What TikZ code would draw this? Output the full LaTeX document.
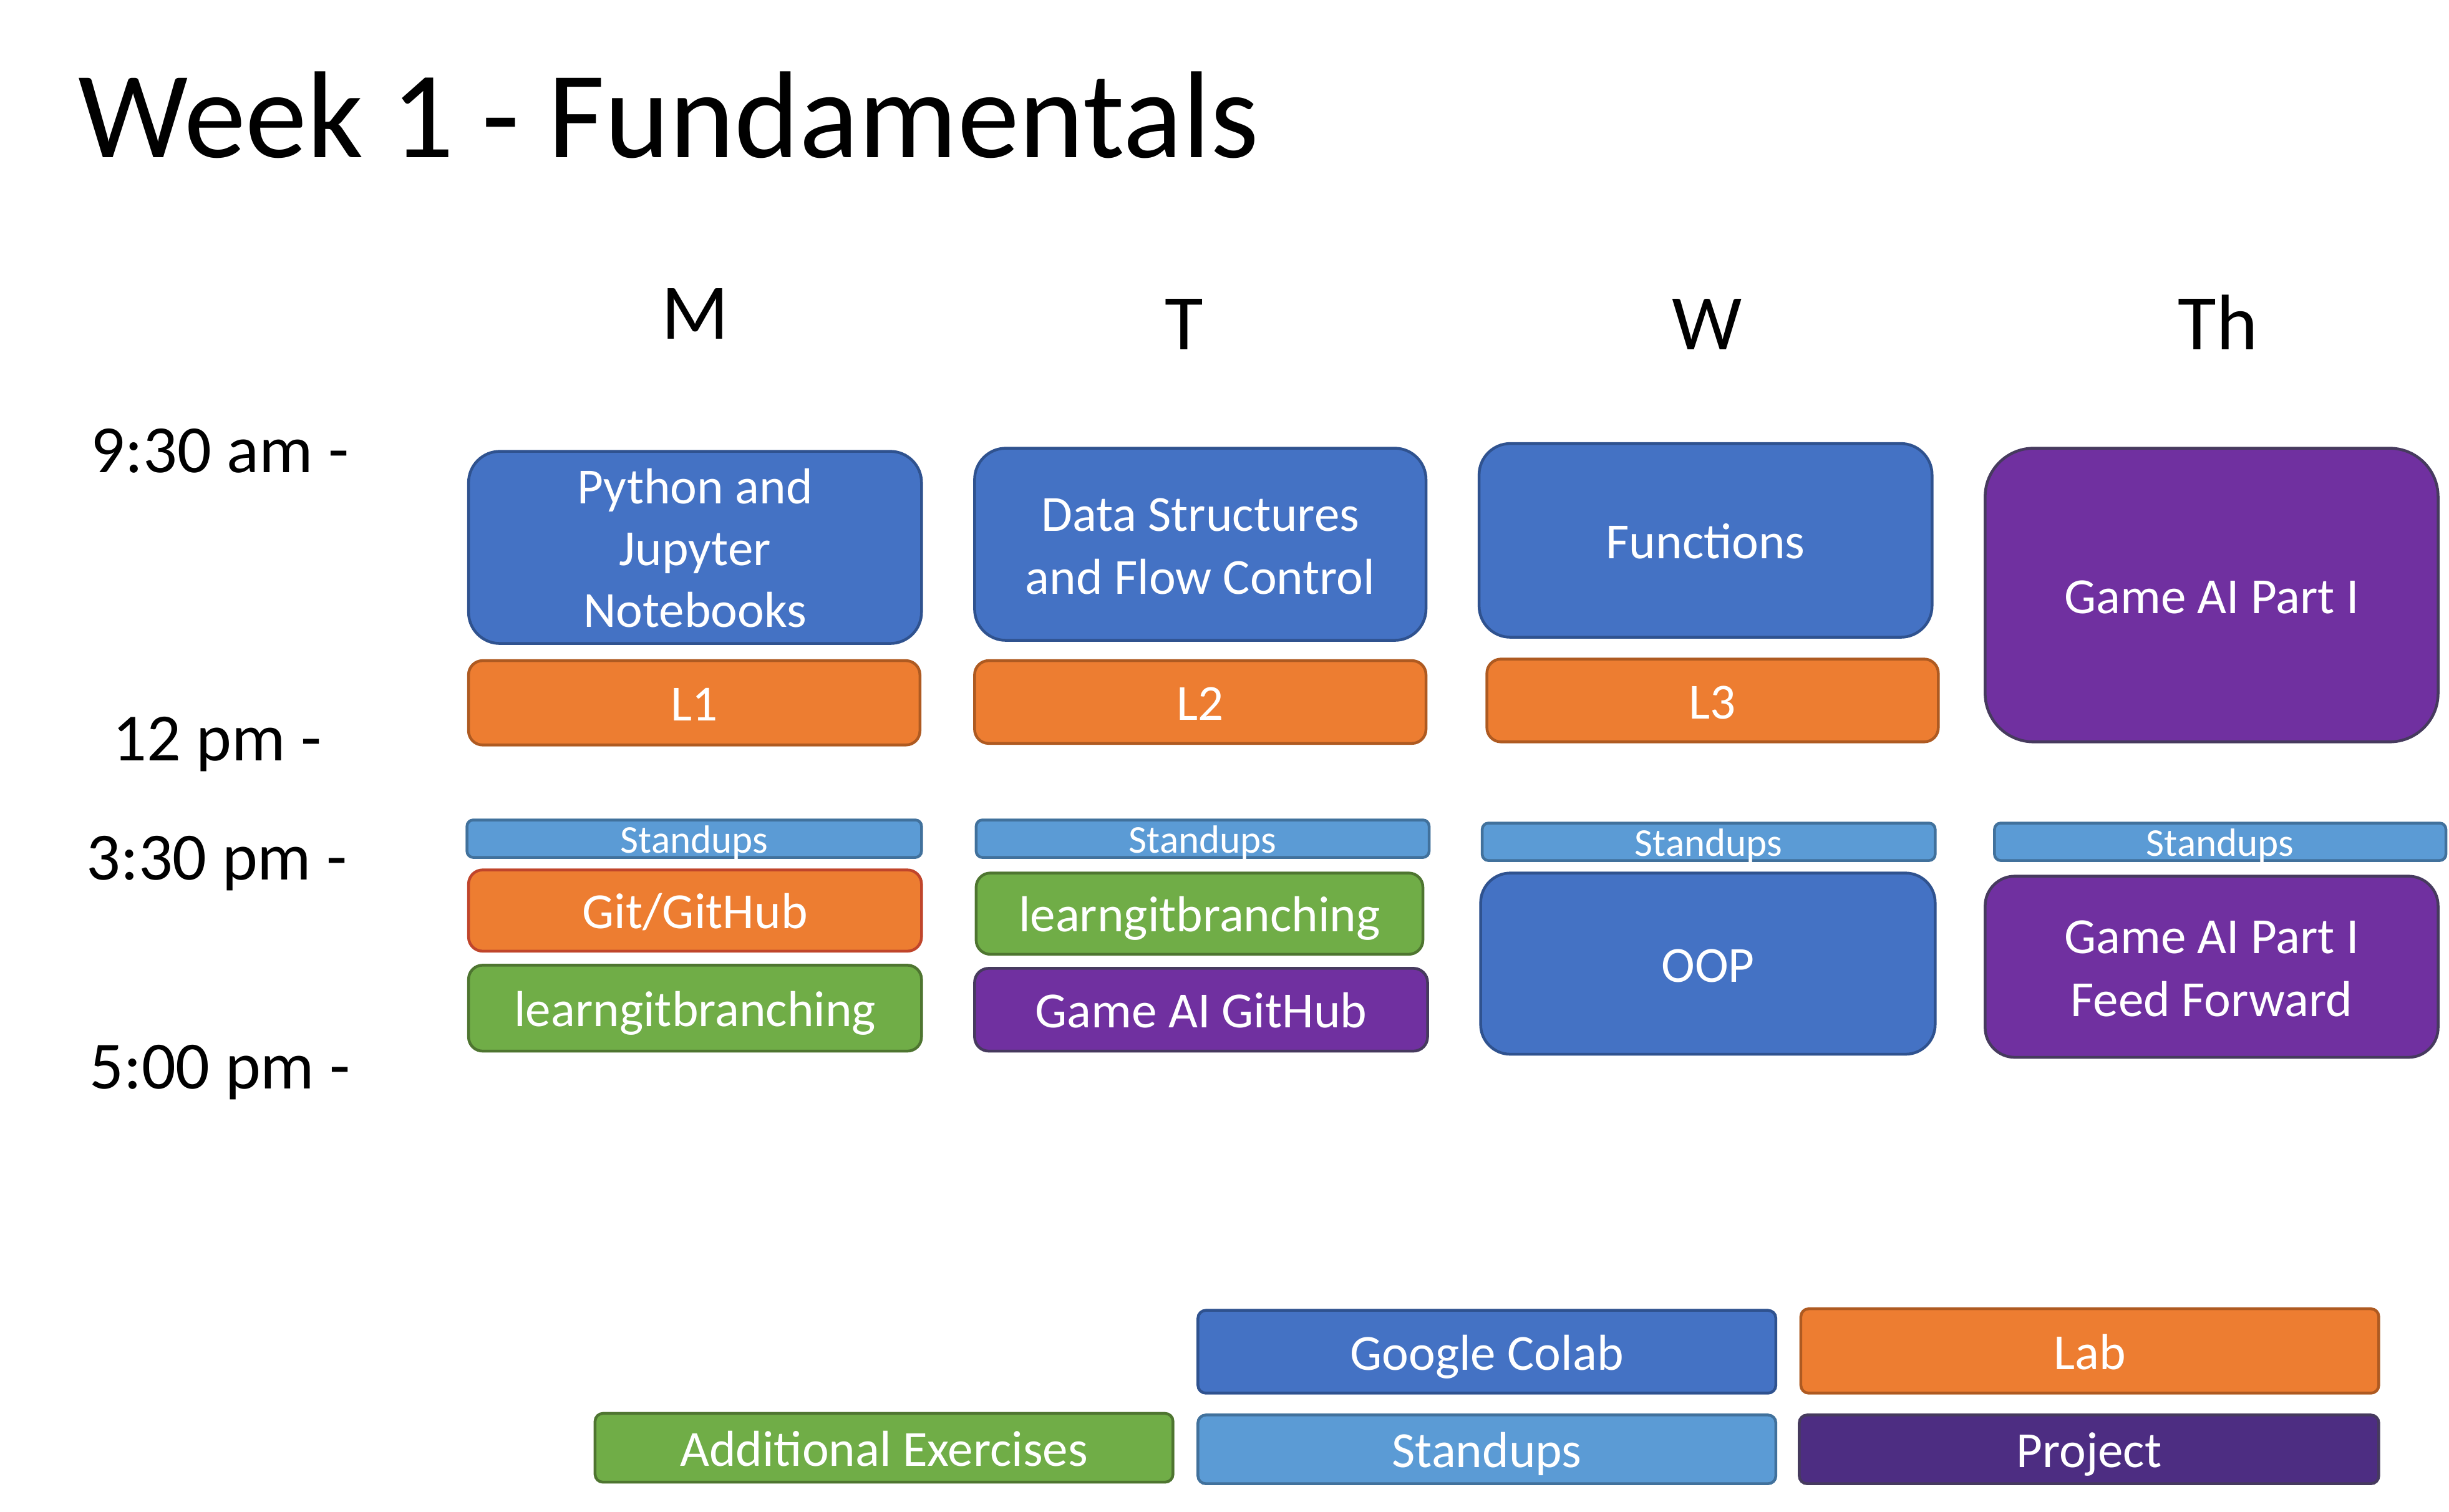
\documentclass[tikz,border=0pt]{standalone}
\usepackage{fontspec}
\setmainfont{Carlito}
\definecolor{cBlue}{HTML}{4472C4}
\definecolor{cBlueD}{HTML}{2F528F}
\definecolor{cOr}{HTML}{ED7D31}
\definecolor{cOrD}{HTML}{AE5A21}
\definecolor{cOrR}{HTML}{C0452B}
\definecolor{cLb}{HTML}{5B9BD5}
\definecolor{cLbD}{HTML}{41719C}
\definecolor{cGr}{HTML}{70AD47}
\definecolor{cGrD}{HTML}{4E7530}
\definecolor{cPu}{HTML}{7030A0}
\definecolor{cPuD}{HTML}{463A5E}
\definecolor{cPj}{HTML}{4D2D82}
\newcommand\ls{\rule[-0.25em]{0pt}{1.22em}}
\tikzset{
  cell/.style={draw, line width=1.8pt, text=white, align=center, inner sep=0pt,
    font=\fontsize{32.4}{39.5}\selectfont},
  small/.style={font=\fontsize{25.2}{30.7}\selectfont, text height=20.9pt, text depth=2.8pt},
  blu/.style={fill=cBlue, draw=cBlueD},
  ora/.style={fill=cOr, draw=cOrD},
  orr/.style={fill=cOr, draw=cOrR},
  lbl/.style={fill=cLb, draw=cLbD},
  grn/.style={fill=cGr, draw=cGrD},
  pur/.style={fill=cPu, draw=cPuD},
  prj/.style={fill=cPj, draw=cPuD},
  sz/.style n args={3}{minimum width=#1pt, minimum height=#2pt, rounded corners=#3pt},
  timelbl/.style={anchor=base west, inner sep=0pt, font=\fontsize{43.2}{52}\selectfont},
  daylbl/.style={anchor=base, inner sep=0pt, font=\fontsize{50.4}{61}\selectfont},
}
\begin{document}
\begin{tikzpicture}[x=1pt,y=-1pt]
\useasboundingbox (0,0) rectangle (1568,968.1);
% title
\node[anchor=base west, inner sep=0pt, font=\fontsize{79.2}{95}\selectfont] (title) at (50,101) {Week 1 - Fundamentals};
% days
\node[daylbl] (dM) at (445,217) {M};
\node[daylbl] (dT) at (758,224) {T};
\node[daylbl] (dW) at (1093,224) {W};
\node[daylbl] (dTh) at (1420,224) {Th};
% times
\node[timelbl] (t1) at (58,302.7) {9:30 am -};
\node[timelbl] (t2) at (72,487) {12 pm -};
\node[timelbl] (t3) at (55,563.5) {3:30 pm -};
\node[timelbl] (t4) at (57,697) {5:00 pm -};
% Monday
\node[cell, blu, sz={290}{123}{20}] (py) at (445,350.5) {\ls Python and\\Jupyter\\Notebooks\ls};
\node[cell, ora, sz={289}{54}{9}] (l1) at (444.5,450) {\ls L1};
\node[cell, lbl, small, sz={291}{24}{4}] (sM) at (444.5,537) {Standups};
\node[cell, orr, sz={290}{52}{9}] (git) at (445,583) {\ls Git/GitHub};
\node[cell, grn, sz={290}{55}{9}] (lgM) at (445,645.5) {\ls learngitbranching};
% Tuesday
\node[cell, blu, sz={289}{123}{20}] (ds) at (768.5,348.5) {\ls Data Structures\\and Flow Control\ls};
\node[cell, ora, sz={289}{53}{9}] (l2) at (768.5,449.5) {\ls L2};
\node[cell, lbl, small, sz={290}{24}{4}] (sT) at (770,537) {Standups};
\node[cell, grn, sz={286}{52}{9}] (lgT) at (768,585) {\ls learngitbranching};
\node[cell, pur, sz={290}{53}{9}] (gh) at (769,646.5) {\ls Game AI GitHub};
% Wednesday
\node[cell, blu, sz={290}{124}{20}] (fn) at (1092,346) {\ls Functions};
\node[cell, ora, sz={289}{53}{9}] (l3) at (1096.5,448.5) {\ls L3};
\node[cell, lbl, small, sz={290}{24}{4}] (sW) at (1094,539) {Standups};
\node[cell, blu, sz={291}{116}{19}] (oop) at (1093.5,617) {\ls OOP};
% Thursday
\node[cell, pur, sz={290}{188}{31}] (ga) at (1416,381) {\ls Game AI Part I};
\node[cell, lbl, small, sz={289}{24}{4}] (sTh) at (1421.5,539) {Standups};
\node[cell, pur, sz={290}{116}{19}] (gaff) at (1416,619) {\ls Game AI Part I\\Feed Forward\ls};
% legend
\node[cell, blu, sz={370}{53}{5}] (kgc) at (952,865.5) {\ls Google Colab};
\node[cell, ora, sz={370}{54}{5}] (klab) at (1338,865) {\ls Lab};
\node[cell, grn, sz={370}{44}{5}] (kae) at (566,927) {\ls Additional Exercises};
\node[cell, lbl, sz={370}{44}{5}] (kst) at (952,928) {\ls Standups};
\node[cell, prj, sz={371}{44}{5}] (kpj) at (1337.5,928) {\ls Project};
\end{tikzpicture}
\end{document}
